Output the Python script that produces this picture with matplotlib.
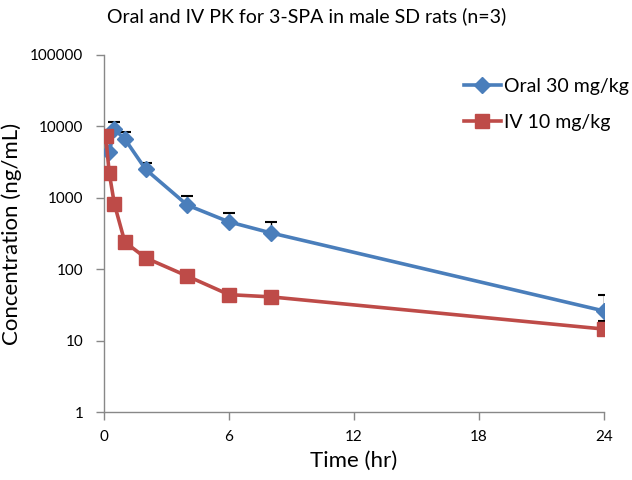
import matplotlib
matplotlib.use("Agg")
import matplotlib.pyplot as plt
import numpy as np

plt.rcParams['font.family'] = ['Lato', 'DejaVu Sans']

oral_time = [0.25, 0.5, 1, 2, 4, 6, 8, 24]
oral_conc = [4370, 9100, 6650, 2500, 790, 460, 323, 26]
oral_err_up = [0, 2300, 1750, 580, 270, 155, 137, 17]
oral_err_lo = [0, 0, 0, 0, 0, 0, 0, 7]

iv_time = [0.083, 0.25, 0.5, 1, 2, 4, 6, 8, 24]
iv_conc = [7350, 2230, 815, 240, 144, 80, 44, 41, 14.5]

title = "Oral and IV PK for 3-SPA in male SD rats (n=3)"
xticks = [0, 6, 12, 18, 24]
yticks = [1, 10, 100, 1000, 10000, 100000]
ytick_labels = ["1", "10", "100", "1000", "10000", "100000"]

blue = "#4A7EBB"
red = "#BE4B48"

fig = plt.figure(figsize=(6.32, 4.8), dpi=100)
ax = fig.add_axes([104/632, 68/480, 500/632, 357/480])

ax.errorbar(oral_time, oral_conc, yerr=[oral_err_lo, oral_err_up], fmt='none',
            ecolor='black', elinewidth=1.0, capsize=4, capthick=1.5, zorder=2)
ax.plot(oral_time, oral_conc, color=blue, lw=2.6, marker='D', ms=8,
        mfc=blue, mec=blue, label="Oral 30 mg/kg", zorder=3)
ax.plot(iv_time, iv_conc, color=red, lw=2.6, marker='s', ms=10,
        mfc=red, mec=red, label="IV 10 mg/kg", zorder=4)

ax.set_yscale('log')
ax.set_ylim(1, 100000)
ax.set_xlim(0, 24)
ax.set_xticks(xticks)
ax.set_xticklabels([str(t) for t in xticks])
ax.set_yticks(yticks)
ax.set_yticklabels(ytick_labels)
ax.yaxis.set_minor_locator(matplotlib.ticker.NullLocator())
ax.tick_params(axis='both', labelsize=11, color='#888888', length=6, width=1)
ax.tick_params(axis='x', pad=7)
ax.tick_params(axis='y', pad=9)

for s in ['top', 'right']:
    ax.spines[s].set_visible(False)
for s in ['left', 'bottom']:
    ax.spines[s].set_color('#888888')
    ax.spines[s].set_linewidth(1)
    ax.spines[s].set_zorder(1)

ax.set_xlabel("Time (hr)", fontsize=16, labelpad=5)
ax.set_ylabel("Concentration (ng/mL)", fontsize=16, labelpad=6)
fig.text(307/632, 1 - 16/480, title, ha='center', va='center', fontsize=14)

leg = ax.legend(loc='upper left', bbox_to_anchor=(0.684, 0.985), frameon=False,
                fontsize=14, handlelength=1.95, labelspacing=1.0, handletextpad=0.15)

fig.savefig("out.png", dpi=100)
